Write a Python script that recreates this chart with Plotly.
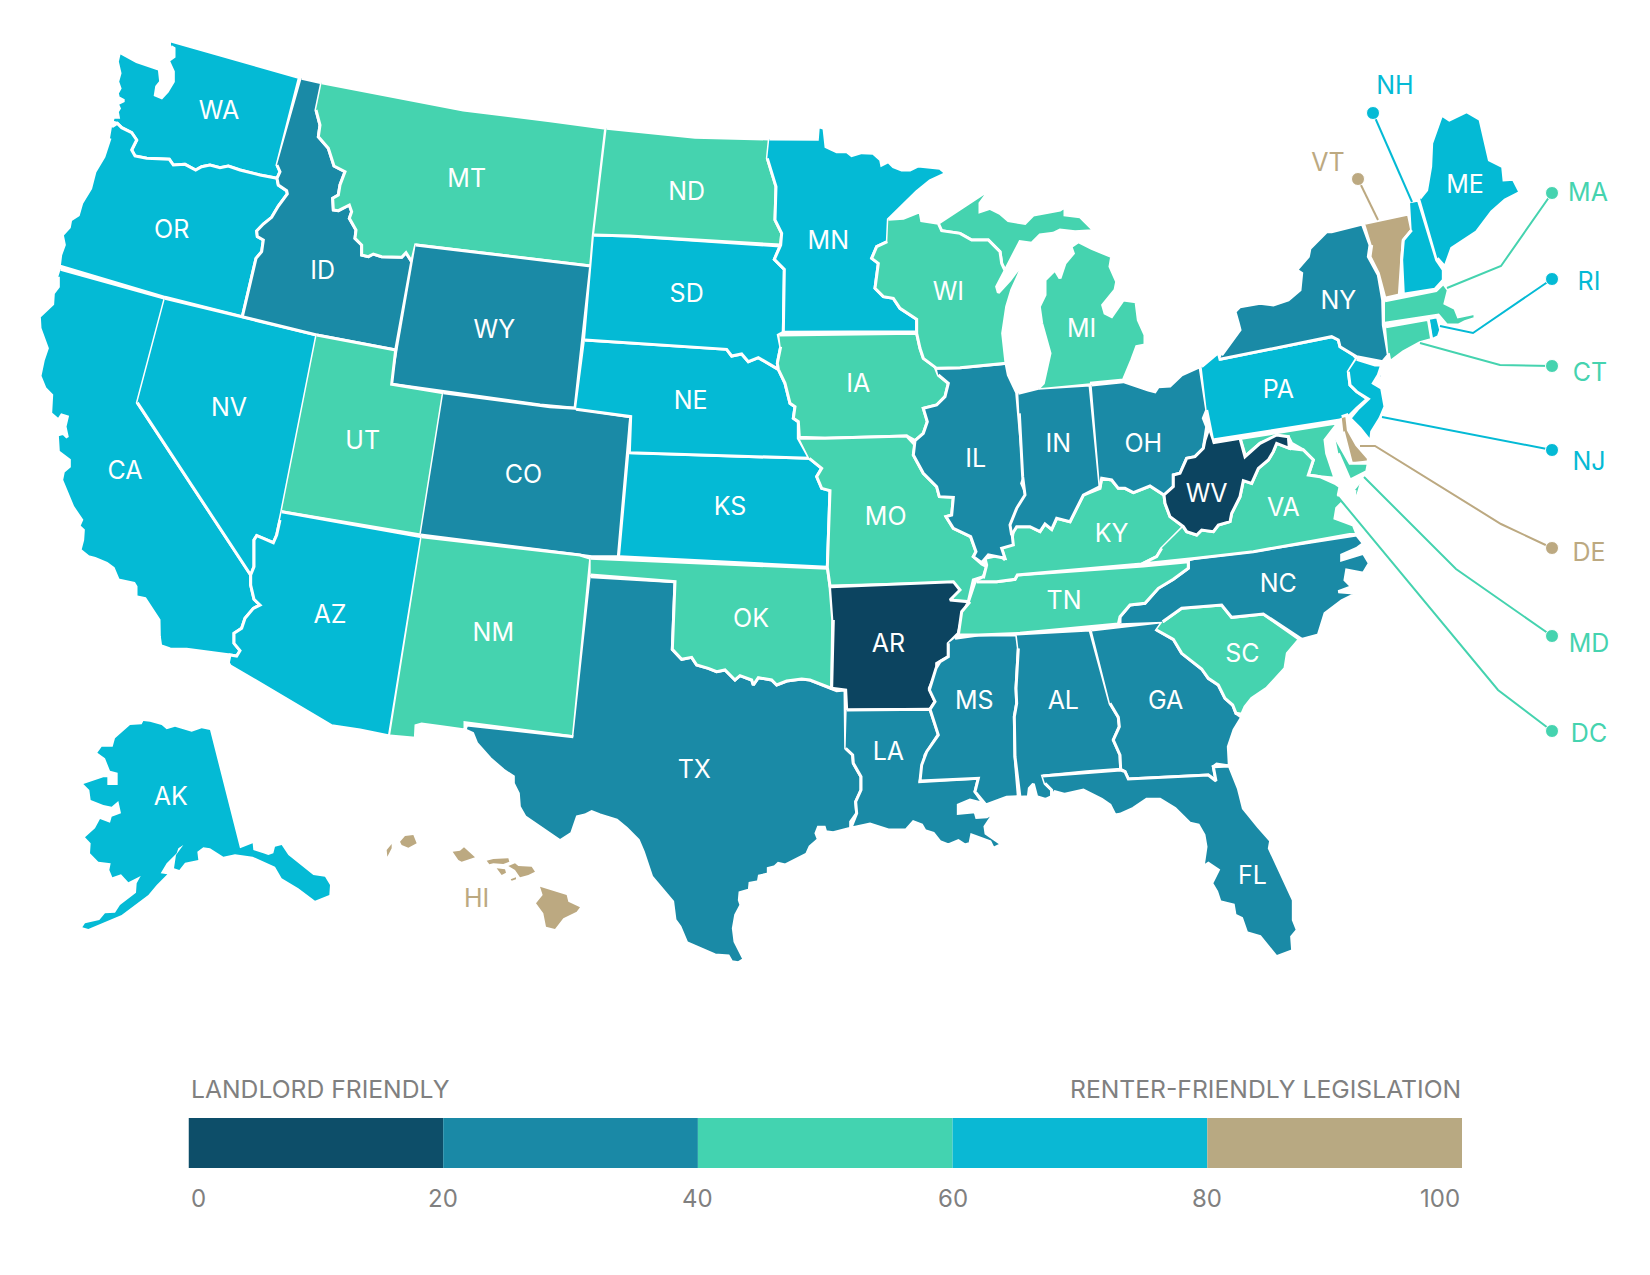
import plotly.graph_objects as go

# The states topojson cannot be fetched offline, so the outlines are traced by hand
# from the picture and drawn as filled polygons on a pixel axis.

# lower edge of the score band of each state
band_60 = ["WA", "OR", "CA", "NV", "AZ", "SD", "NE", "KS", "MN", "PA", "NJ", "NH", "ME", "RI", "AK"]
band_40 = ["MT", "UT", "NM", "ND", "OK", "IA", "MO", "WI", "MI", "KY", "TN", "VA", "SC", "MA", "CT", "MD", "DC"]
band_20 = ["ID", "WY", "CO", "TX", "LA", "IL", "IN", "OH", "MS", "AL", "GA", "FL", "NC", "NY"]
band_0 = ["AR", "WV"]
band_80 = ["VT", "DE", "HI"]

legend_edges = [0, 20, 40, 60, 80, 100]
legend_colors = ["#0D4E69", "#1A89A6", "#43D3B0", "#0AB8D4", "#B8A982"]
map_colors = ["#0C4460", "#1A8AA6", "#45D3AF", "#04BAD5", "#BCA981"]

callout_states = ["NH", "VT", "MA", "RI", "CT", "NJ", "DE", "MD", "DC"]
callout_x = [[1373, 1412], [1358, 1378], [1552, 1501, 1447], [1552, 1473, 1440], [1552, 1500, 1420],
             [1552, 1382], [1552, 1501, 1375, 1360], [1552, 1456, 1364], [1552, 1498, 1338]]
callout_y = [[113, 202], [179, 220], [193, 266, 288], [279, 333, 326], [366, 365, 343],
             [450, 417], [548, 524, 446, 446], [636, 569, 477], [731, 690, 497]]
callout_label_x = [1395, 1328, 1588, 1589, 1590, 1589, 1589, 1589, 1589]
callout_label_y = [88, 165, 195, 284, 375, 464, 555, 646, 736]

# where each trace block of points was read from
crops = {"A": (30, 30), "B": (540, 100), "C": (1010, 60), "D": (60, 520), "E": (460, 500), "F": (880, 480)}


def p(crop, pts):
    ox, oy = crops[crop]
    out = []
    for pair in pts.split():
        x, y = pair.split(",")
        out.append((ox + float(x) / 3, oy + float(y) / 3))
    return out


GAP = [(None, None)]

outlines = {
    "WA": p("A", "423,33 808,143 741,405 750,425 741,445 690,435 630,420 595,408 570,413 540,405 515,410 497,420 465,403 430,405 418,388 350,385 315,378 305,360 320,330 305,308 275,293 262,280 246,276 250,262 265,262 262,245 268,235 262,222 282,212 265,203 262,190 270,175 263,155 270,130 262,95 270,60 275,70 320,95 388,118 392,155 380,170 376,195 395,203 412,185 430,155 430,125 415,92 432,80 432,55 423,50"),
    "OR": p("A", "246,290 262,280 275,293 305,308 320,330 305,360 315,378 350,385 418,388 430,405 465,403 497,420 515,410 540,405 570,413 595,408 630,420 690,435 741,445 745,465 770,482 772,492 745,528 725,562 700,582 680,603 682,620 700,630 695,665 678,685 637,860 405,802 88,708 92,675 103,645 97,615 118,592 122,570 145,555 155,520 182,475 195,425 222,380 240,325"),
    "CA": p("A", "92,718 405,805 322,1118") + p("D", "572,165 572,195 582,238 600,255 580,265 555,295 545,325 522,340 522,370 540,392 530,408 510,405 380,388 330,387 302,377 298,350 297,300 255,236 228,230 228,200 222,190 175,180 160,145 140,130 105,115 85,110 60,90 68,60 70,30 57,18 65,0") + p("A", "128,1430 110,1385 95,1350 100,1325 118,1310 118,1290 85,1265 82,1215 100,1210 112,1222 105,1190 112,1160 95,1155 85,1170 62,1150 65,1095 45,1075 30,1038 40,990 52,955 30,895 28,860 68,822 70,790 85,770 85,740"),
    "NV": p("A", "405,805 860,915 755,1445") + p("D", "660,0 650,45 640,68 610,55 590,47 582,60 582,140 572,165") + p("A", "322,1118"),
    "ID": p("A", "815,145 875,158 858,240 870,285 865,320 895,355 912,408 945,425 930,465 925,495 908,505 910,540 925,542 958,525 965,545 958,565 978,600 975,625 995,645 995,675 1015,680 1030,672 1055,680 1090,682 1115,682 1128,668 1145,695 1097,960 860,915 637,860 678,685 695,665 700,630 682,620 680,603 700,582 725,562 745,528 772,492 770,482 745,465 741,445 750,425 741,405"),
    "MT": p("A", "875,158 1300,240 1560,272") + p("B", "197,85 160,405 152,498 0,480") + p("A", "1157,645 1145,695 1128,668 1115,682 1090,682 1055,680 1030,672 1015,680 995,675 995,645 975,625 978,600 958,565 965,545 958,525 925,542 910,540 908,505 925,495 930,465 945,425 912,408 895,355 865,320 870,285 858,240"),
    "WY": p("A", "1157,645") + p("B", "152,498 105,925 0,915") + p("A", "1085,1063"),
    "UT": p("A", "860,915 1097,960 1085,1063 1240,1088 1172,1515 755,1445"),
    "CO": p("A", "1240,1088 1560,1130") + p("B", "105,925 272,950 235,1370 155,1370 0,1350") + p("A", "1172,1515"),
    "AZ": p("A", "755,1445") + p("D", "1085,50 988,648 900,630 815,617 510,437 505,428 510,405 530,408 540,392 522,370 522,340 545,325 555,295 580,265 600,255 582,238 572,195 572,165 582,140 582,60 590,47 610,55 640,68 650,45 660,0"),
    "NM": p("D", "1085,50 1560,105") + p("E", "392,175 340,710 15,668 15,690") + p("D", "1145,620 1085,612 1068,617 1066,655 990,648"),
    "TX": p("E", "392,230 645,245 637,448 665,478 695,472 710,495 745,505 770,515 795,510 825,540 840,527 875,540 880,555 895,533 935,540 950,555 980,543 1025,537 1050,540 1115,565 1130,572 1155,570 1157,745 1178,765 1180,790 1203,830 1203,870 1187,905 1190,940 1172,965 1172,985 1120,998 1097,995 1093,982 1075,982 1068,1000 1075,1018 1050,1040 1040,1062 975,1095 955,1090 945,1100 925,1105 925,1122 898,1128 895,1145 870,1150 868,1170 840,1178 838,1200 843,1215 827,1245 820,1285 825,1325 852,1378 835,1388 815,1385 805,1368 765,1365 680,1328 660,1280 645,1260 638,1205 575,1130 550,1055 535,1020 500,985 470,960 420,945 395,935 375,945 352,950 335,1000 300,1022 195,950 178,920 175,880 160,850 160,830 130,810 90,775 50,730 38,700 15,690 20,675 340,710"),
    "OK": p("E", "392,175 1103,205 1110,260 1118,360 1115,565 1050,540 1025,537 980,543 950,555 935,540 895,533 880,555 875,540 840,527 825,540 795,510 770,515 745,505 710,495 695,472 665,478 637,448 645,245 392,225"),
    "KS": p("B", "268,1058 808,1075 845,1105 830,1130 845,1165 870,1172 862,1402 240,1370"),
    "NE": p("B", "135,720 560,748 575,768 605,762 625,785 655,773 715,808 735,850 750,910 765,920 760,955 775,965 775,1015 808,1075 268,1058 272,950 108,928"),
    "SD": p("B", "162,405 270,408 720,438 703,478 733,508 730,697 715,705 722,740 712,790 715,808 655,773 625,785 605,762 575,768 560,748 135,720"),
    "ND": p("B", "200,85 465,112 688,117 682,175 708,260 705,360 725,400 722,435 270,408 162,405"),
    "MN": p("B", "688,117 832,118 835,80 852,85 858,140 890,155 920,155 935,167 965,158 1000,160 1022,180 1025,195 1045,185 1060,200 1085,210 1110,210 1135,198 1200,205 1218,220 1170,242 1130,275 1100,305 1045,358 1042,425 1010,440 995,475 1015,490 1005,565 1030,590 1060,595 1080,625 1130,658 1130,695 730,697 733,508 703,478 722,435 725,400 705,360 708,260 682,175"),
    "IA": p("B", "718,705 1130,700 1140,745 1150,775 1185,800 1195,825 1225,850 1215,890 1190,915 1150,925 1162,965 1150,1000 1125,1022 1100,1008 855,1015 778,1012 775,965 760,955 765,920 750,910 735,850 715,808 712,790 722,740"),
    "MO": p("B", "778,1015 855,1015 1100,1008 1125,1035 1120,1065 1150,1120 1190,1160 1198,1190 1240,1192 1235,1245 1218,1250 1240,1285 1292,1310 1308,1355 1300,1370 1325,1392 1340,1400 1330,1430 1300,1440 1285,1505 1238,1503 1235,1490 1255,1470 1240,1448 870,1458 862,1402 870,1172 845,1165 830,1130 845,1105 808,1075"),
    "AR": p("E", "1113,260 1480,245 1500,270 1470,300 1525,305 1508,345 1495,400 1465,430 1465,470 1430,490 1430,515 1408,565 1425,605 1410,628 1160,630 1157,570 1115,565 1120,360"),
    "LA": p("E", "1160,630 1410,628 1435,703 1395,765 1380,845") + p("F", "295,895 285,935 315,978 300,968 270,960 235,975 235,1000 285,995 290,1012 320,1010 345,995 315,1040 318,1060 365,1093 340,1105 330,1085 300,1075 275,1065 270,1090 255,1095 235,1082 205,1095 180,1085 160,1060 135,1052 125,1035 100,1025 78,1050 25,1050") + p("E", "1230,972 1172,985 1190,940 1187,905 1203,870 1203,830 1180,790 1178,765 1157,745"),
    "MS": p("F", "225,475 295,465 410,465 415,505 408,625 410,670 403,710 405,830 415,950 380,952 318,975 285,935 295,895 120,903 125,855 140,815 175,765 150,688 165,665 148,630 168,565 180,545 205,530 205,490"),
    "AL": p("F", "410,462 630,450 690,670 715,712 718,740 700,780 720,825 722,868 620,875 488,888 495,910 515,930 515,950 497,958 470,950 460,912 448,925 445,950 420,952 405,830 403,710 410,670 408,625 415,505"),
    "GA": p("F", "635,450 848,425 830,450 880,478 905,520 965,567 985,595 1015,615 1035,655 1058,675 1068,700 1085,712 1062,750 1045,800 1048,858 1010,852 1000,860 1008,903 985,885 810,895 745,897 735,875 722,868 720,825 700,780 718,740 715,712 690,670"),
    "FL": p("F", "488,888 722,870 735,875 745,897 985,885 1008,903 1000,860 1048,858 1075,925 1090,985 1135,1040 1172,1082 1168,1105 1205,1185 1240,1260 1240,1320 1252,1350 1235,1370 1238,1412 1190,1430 1172,1435 1185,1425 1140,1370 1100,1358 1085,1315 1065,1305 1060,1275 1020,1265 1010,1235 995,1210 1015,1170 985,1150 970,1160 985,1185 970,1155 978,1100 972,1065 955,1035 930,1030 885,985 840,958 800,958 760,985 720,1003 705,1005 690,975 665,958 610,930 555,943 525,935 515,950 515,930 495,910"),
    "SC": p("F", "848,425 905,385 1025,375 1055,412 1150,402 1258,478 1222,520 1215,565 1160,625 1115,655 1095,680 1085,703 1068,700 1058,675 1035,655 1015,615 985,595 965,567 905,520 880,478 830,450"),
    "NC": p("F", "720,430 720,410 750,375 795,370 835,325 880,298 925,265 925,240 945,235 1130,212 1430,165 1450,190 1430,205 1385,225 1385,240 1420,230 1450,220 1468,250 1450,280 1400,270 1395,300 1415,320 1375,335 1430,340 1385,362 1335,400 1315,465 1265,478 1150,402 1055,412 1025,375 905,385 848,425"),
    "TN": p("F", "290,305 350,305 405,298 412,285 790,258 925,245 925,265 880,298 835,325 795,370 750,375 720,410 715,432 420,460 295,465 235,465 245,395 270,365"),
    "KY": p("F", "310,295 320,255 315,235 360,225 375,240 365,205 395,190 400,150") + p("C", "20,1400 60,1400 90,1415 105,1392 125,1408 140,1375 180,1385 220,1305 270,1285 275,1255 305,1260 325,1285 345,1285 370,1298 420,1278 462,1305 465,1330 480,1370 520,1400 455,1465 440,1490 395,1512") + p("F", "412,285 405,298 350,305 290,305"),
    "IL": p("B", "1190,805 1260,803 1398,790 1405,825 1430,878 1440,1000 1452,1130 1445,1150 1460,1185 1420,1255 1415,1290 1420,1335 1385,1345 1395,1375 1345,1365 1325,1388 1300,1370 1308,1355 1292,1310 1240,1285 1218,1250 1235,1245 1240,1192 1198,1190 1190,1160 1150,1120 1120,1065 1125,1022 1150,1000 1162,965 1150,925 1190,915 1215,890 1225,850 1195,825"),
    "IN": p("C", "25,1000 85,985 240,975 270,1280 220,1305 180,1385 140,1375 125,1408 105,1392 90,1415 60,1400 20,1400 5,1425 0,1395 20,1345 45,1305 38,1250 28,1060"),
    "OH": p("C", "245,975 340,965 415,990 435,995 445,980 480,978 515,945 570,920 590,1050 580,1075 590,1100 585,1140 580,1165 555,1190 530,1195 510,1240 490,1245 490,1280 462,1305 420,1278 370,1298 345,1285 325,1285 305,1260 275,1255 270,1280"),
    "MI": p("C", "85,985 100,970 120,880 95,790 88,740 105,705 105,660 135,630 150,655 165,610 190,580 183,560 205,545 245,565 305,590 300,620 320,665 315,690 278,735 285,760 305,770 340,720 378,725 385,780 405,825 405,855 380,860 365,900 340,960 240,970") + GAP + p("B", "1195,370 1265,325 1310,295 1350,268 1320,310 1320,335 1350,325 1380,340 1405,362 1455,370 1480,345 1560,330") + p("C", "165,440 165,465 210,470 245,505 285,510 195,515 150,510") + p("B", "1540,400 1500,405 1475,430 1440,425 1395,512 1385,490 1380,455 1345,420 1295,420 1260,400 1205,392"),
    "WI": p("B", "1045,358 1090,355 1140,335 1145,362 1195,370 1205,392 1260,400 1295,420 1345,420 1380,455 1385,490 1395,512 1370,560 1375,578 1410,540 1440,500 1440,515 1415,570 1400,620 1388,700 1398,790 1260,803 1190,805 1150,775 1140,745 1130,700 1130,658 1080,625 1060,595 1030,590 1005,565 1015,490 995,475 1010,440 1042,425"),
    "PA": p("C", "575,920 625,878 630,898 965,830 985,840 990,860 1030,885 1040,895 1015,935 1020,975 1040,995 1072,1017 1040,1045 1020,1065 990,1080 608,1140 590,1050"),
    "NY": p("C", "635,885 690,810 685,790 675,755 690,740 750,730 790,735 835,720 870,690 875,640 860,630 895,590 900,565 950,515 965,515 1057,492 1080,555 1075,590 1105,645 1118,720 1120,795 1135,885 1118,905 1095,900 1040,890 990,860 985,840 965,830 630,898") + GAP + p("C", "1110,955 1130,940 1195,925 1255,885 1215,905 1160,935 1110,945"),
    "VT": p("C", "1065,490 1195,462 1205,510 1180,540 1175,600 1168,705 1125,715 1105,640 1080,590 1085,555"),
    "NH": p("C", "1200,425 1225,420 1280,600 1300,630 1300,660 1275,688 1180,703 1175,600 1180,540 1205,510"),
    "ME": p("C", "1230,415 1250,390 1262,320 1265,250 1295,165 1318,180 1370,155 1410,178 1438,300 1478,320 1482,360 1510,358 1530,397 1485,420 1445,455 1400,515 1325,565 1305,620 1282,595"),
    "MA": p("C", "1125,722 1278,692 1300,670 1315,690 1305,730 1335,745 1345,770 1395,760 1395,775 1365,785 1345,795 1310,795 1285,765 1255,770 1125,790"),
    "RI": p("C", "1258,775 1282,770 1292,810 1285,830 1268,838"),
    "CT": p("C", "1128,800 1255,778 1265,838 1230,848 1180,875 1140,905 1135,880"),
    "NJ": p("C", "1040,898 1095,915 1115,915 1105,945 1090,970 1115,985 1125,1040 1110,1075 1085,1115 1082,1145 1050,1105 1020,1075 1045,1045 1075,1017 1040,995 1020,975 1015,935"),
    "DE": p("C", "995,1070 1010,1065 1015,1110 1040,1155 1075,1195 1075,1205 1025,1212 1000,1115"),
    "MD": p("C", "695,1135 985,1088 945,1140 950,1180 970,1240 975,1255 930,1250 895,1245 910,1200 880,1170 845,1150 835,1130 800,1130 750,1150 710,1185") + GAP + p("C", "975,1130 1020,1210 1075,1210 1070,1235 1020,1260 985,1180"),
    "VA": p("C", "520,1400 530,1415 560,1425 575,1410 610,1415 625,1395 660,1385 665,1360 690,1310 700,1262 725,1270 745,1225 775,1200 790,1175 800,1150 838,1165 880,1170 910,1200 895,1245 930,1250 975,1270 990,1280 985,1305 1000,1325 980,1345 975,1375 1030,1395 1040,1420 730,1475 560,1495 395,1512 440,1490 455,1465") + GAP + p("C", "1055,1265 1045,1300 1030,1335 1035,1290"),
    "WV": p("C", "608,1148 690,1135 705,1190 750,1150 800,1125 835,1130 838,1165 800,1150 790,1175 775,1200 745,1225 725,1270 700,1262 690,1310 665,1360 660,1385 625,1395 610,1415 575,1410 560,1425 530,1415 520,1400 480,1370 465,1330 462,1305 490,1280 490,1245 510,1240 530,1195 555,1190 580,1165 585,1140 595,1110"),
    "AK": p("D", "450,630 540,985 578,970 580,990 610,1000 625,1005 640,1000 645,980 665,975 685,1005 760,1065 795,1070 810,1095 808,1125 765,1142 715,1105 665,1075 645,1040 578,1010 525,1003 490,1010 450,985 430,982 412,995 415,1020 375,1028 358,1050 342,1045 348,1005 370,975 355,985 350,1000 320,1030 302,1060 322,1063 290,1095 265,1125 185,1185 85,1227 67,1222 75,1210 118,1200 135,1180 165,1178 180,1155 228,1118 230,1090 242,1068 205,1087 183,1063 157,1072 148,1050 152,1030 115,1025 90,1000 92,970 75,952 105,925 120,897 150,908 155,890 183,880 175,843 155,860 130,855 92,840 88,810 70,792 130,772 142,772 142,795 173,795 173,758 150,752 135,715 112,698 125,680 158,680 165,655 210,615 245,613 250,603 270,605 305,615 320,628 345,620 395,635 425,625"),
    "HI": p("E", "240,1160 320,1185 325,1205 360,1222 350,1235 310,1255 285,1287 258,1280 250,1240 228,1210 248,1185") + GAP + p("E", "145,1098 165,1090 175,1098 215,1100 225,1115 205,1125 180,1132 165,1110") + GAP + p("E", "80,1082 100,1077 145,1075 148,1085 130,1092 100,1090 88,1093") + GAP + p("E", "110,1105 135,1108 138,1118 125,1125") + GAP + p("E", "152,1138 168,1132 168,1138 155,1142") + GAP + p("D", "1178,995 1200,992 1212,982 1245,1012 1205,1025 1195,1020") + GAP + p("D", "1020,965 1035,948 1060,945 1070,970 1045,983 1025,975") + GAP + p("D", "995,972 980,990 982,1010 995,985"),
}

label_spots = {
    "WA": ("A", 567, 240), "OR": ("A", 425, 595), "ID": ("A", 878, 718), "MT": ("A", 1310, 443), "WY": ("A", 1393, 895),
    "NV": ("A", 597, 1130), "UT": ("A", 998, 1230), "CA": ("A", 285, 1318), "CO": ("A", 1480, 1330),
    "ND": ("B", 440, 272), "SD": ("B", 440, 577), "NE": ("B", 452, 898), "KS": ("B", 570, 1217), "MN": ("B", 865, 418),
    "IA": ("B", 955, 848), "WI": ("B", 1225, 572), "IL": ("B", 1307, 1072), "MO": ("B", 1037, 1247),
    "MI": ("C", 215, 802), "IN": ("C", 145, 1147), "OH": ("C", 400, 1147), "PA": ("C", 805, 985), "NY": ("C", 985, 718),
    "ME": ("C", 1365, 370), "WV": ("C", 590, 1297), "VA": ("C", 820, 1340), "KY": ("C", 305, 1417),
    "AZ": ("D", 810, 280), "NM": ("D", 1300, 335), "AK": ("D", 332, 828), "HI": ("D", 1250, 1133),
    "TX": ("E", 703, 805), "OK": ("E", 873, 352), "AR": ("E", 1285, 428), "LA": ("E", 1285, 752),
    "TN": ("F", 552, 358), "NC": ("F", 1195, 307), "SC": ("F", 1087, 517), "MS": ("F", 283, 660), "AL": ("F", 550, 660),
    "GA": ("F", 857, 660), "FL": ("F", 1117, 1183),
}

band_of = {}
for i, group in enumerate([band_0, band_20, band_40, band_60, band_80]):
    for st in group:
        band_of[st] = i

FONT = "Inter, Open Sans, sans-serif"
data = []

for st, pts in outlines.items():
    # no neighbours for AK and HI, so no white border eating into them
    lw = 0 if st in ("AK", "HI") else 3
    data.append(go.Scatter(x=[q[0] for q in pts], y=[q[1] for q in pts], mode="lines", fill="toself",
                           fillcolor=map_colors[band_of[st]], line=dict(color="white", width=lw),
                           name=st, hoverinfo="name", hoveron="fills", showlegend=False))

# leader lines with the dot at the outer end
for st, xs, ys in zip(callout_states, callout_x, callout_y):
    col = map_colors[band_of[st]]
    data.append(go.Scatter(x=xs, y=ys, mode="lines+markers", line=dict(color=col, width=2),
                           marker=dict(color=col, opacity=1, size=[13] + [0] * (len(xs) - 1)),
                           hoverinfo="skip", showlegend=False))

names = list(label_spots)
lx = [p(label_spots[s][0], f"{label_spots[s][1]},{label_spots[s][2]}")[0][0] for s in names]
ly = [p(label_spots[s][0], f"{label_spots[s][1]},{label_spots[s][2]}")[0][1] + 3 for s in names]
colors = [map_colors[4] if s == "HI" else "white" for s in names]
data.append(go.Scatter(x=lx, y=ly, text=names, mode="text", textposition="middle center",
                       textfont=dict(family=FONT, size=25, color=colors), hoverinfo="skip", showlegend=False))
data.append(go.Scatter(x=callout_label_x, y=callout_label_y, text=callout_states, mode="text",
                       textposition="middle center",
                       textfont=dict(family=FONT, size=25, color=[map_colors[band_of[s]] for s in callout_states]),
                       hoverinfo="skip", showlegend=False))

# the score scale underneath the map
for lo, hi, col in zip(legend_edges[:-1], legend_edges[1:], legend_colors):
    data.append(go.Bar(x=[hi - lo], y=[0], base=[lo], orientation="h", width=1, marker=dict(color=col, line_width=0),
                       xaxis="x2", yaxis="y2", hoverinfo="skip", showlegend=False))

fig = go.Figure(data=data)

W, H = 1650, 1275
annotations = [
    dict(text="LANDLORD FRIENDLY", x=189, y=1089, xref="x", yref="y", xanchor="left", showarrow=False,
         font=dict(family=FONT, size=24.7, color="#808080")),
    dict(text="RENTER-FRIENDLY LEGISLATION", x=1463, y=1089, xref="x", yref="y", xanchor="right", showarrow=False,
         font=dict(family=FONT, size=24.7, color="#808080")),
]
for v in legend_edges:
    anchor = "left" if v == 0 else ("right" if v == 100 else "center")
    annotations.append(dict(text=str(v), x=v, xref="x2", y=1198, yref="y", xanchor=anchor, showarrow=False,
                            font=dict(family=FONT, size=24, color="#808080")))

fig.update_layout(
    width=W, height=H, margin=dict(l=0, r=0, t=0, b=0), paper_bgcolor="white", plot_bgcolor="white",
    barmode="overlay", annotations=annotations,
    xaxis=dict(range=[0, W], visible=False, domain=[0, 1], fixedrange=True),
    yaxis=dict(range=[H, 0], visible=False, domain=[0, 1], fixedrange=True),
    xaxis2=dict(range=[0, 100], visible=False, domain=[188.5 / W, 1462 / W], anchor="y2", fixedrange=True),
    yaxis2=dict(range=[-0.5, 0.5], visible=False, domain=[1 - 1168 / H, 1 - 1118 / H], anchor="x2", fixedrange=True),
)

# the page's default 8px body margin would push the whole map off its pixel positions
fig.write_html("out.html", config={"displayModeBar": False},
               post_script="document.body.style.margin='0';document.body.style.overflow='hidden';")
